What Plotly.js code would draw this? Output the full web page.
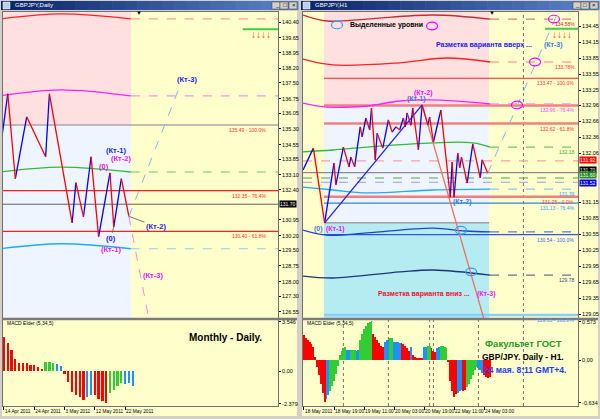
<!DOCTYPE html>
<html><head><meta charset="utf-8">
<script src="https://cdn.plot.ly/plotly-3.0.1.min.js"></script>
<style>html,body{margin:0;padding:0;background:#d4d0c8;overflow:hidden}#c{width:600px;height:419px}</style>
</head><body><div id="c"></div>
<script>
// ================= DATA : left window (GBPJPY, Daily) =================
const dPriceTicks = [140.40,139.65,138.95,138.20,137.50,136.75,136.05,135.30,134.55,133.85,133.10,132.40,130.95,130.20,129.50,128.75,128.00,127.30,126.55];
const dDateIdx = [0,8,16,24,32];
const dDateText = ['14 Apr 2011','24 Apr 2011','3 May 2011','12 May 2011','22 May 2011'];
const dZigX = [-1,1,3,6,11,12,18,19,21,23,25,28,29,31,33];
const dZigY = [134.3,136.98,132.92,135.88,133.97,136.98,130.81,132.73,131.10,133.97,130.15,133.20,130.62,132.92,131.12];
const dCurveX = [-1,15,33.5];
const dRedTop = [140.56,140.80,140.56];
const dMagenta = [136.88,137.17,136.88];
const dGreen = [133.24,133.47,133.24];
const dCyan = [129.57,129.81,129.57];
const dFibLevels = [135.49,132.35,130.40];
const dFibText = ['135.49 - 100.0%','132.35 - 76.4%','130.40 - 61.8%'];
const dLast = 131.70;
const dZoneEnd = 33.55;
const dKt3Up = [46.5,137.36];
const dKt3Down = [38.5,126.0];
const dStopLevel = 140.07;
const dMacd = [2.48,2.0,1.52,0.85,0.56,0.56,0.56,0.43,0.43,0.31,0.12,0.63,0.63,0.56,0.5,0.36,-0.22,-0.77,-1.49,-1.73,-1.86,-2.1,-1.9,-1.73,-1.73,-2.05,-2.14,-2.34,-1.61,-1.37,-1.08,-0.85,-0.94,-0.89,-1.08];
const dMacdCol = ['r','r','r','r','r','r','r','r','r','r','r','g','g','g','b','b','r','r','r','r','r','r','b','b','r','r','r','r','g','g','g','g','b','b','b'];
const dMacdTicks = [3.546,0,-2.379];
const dMacdTickText = ['3.546','0.00','-2.379'];

// ================= DATA : right window (GBPJPY, H1) =================
const hPriceTicks = [134.45,134.15,133.85,133.55,133.25,132.96,132.66,132.36,132.06,131.15,130.85,130.55,130.25,129.95,129.65,129.35,129.05];
const hDateIdx = [0,16,32,48,64,80,96];
const hDateText = ['18 May 2011','18 May 19:00','19 May 11:00','20 May 03:00','20 May 19:00','22 May 11:00','24 May 03:00'];
const hSepIdx = [21,45,67,69,93,117];
const hZigX = [-0.5,5,11,16,17,21,24,25,27,30,31,33,35,36,38,39,42,45,47,49,51,53,54,55,57,58,61,63,66,67,69,73,78,79,80,82,83,84,87,90,94,95,98];
const hZigY = [131.75,132.16,130.76,131.88,131.47,132.18,131.81,131.99,131.81,132.56,132.37,132.725,132.50,132.91,131.94,132.44,132.16,132.69,132.46,132.56,132.50,132.725,132.56,132.82,132.59,132.91,132.125,132.97,132.59,132.74,132.275,132.875,131.24,131.90,131.24,132.07,131.79,131.99,131.506,132.24,131.60,131.94,131.69];
const hZone = [10.67,98.7];
const hDarkRedX = [-0.5,12.3,33.6,68.8,99.2];  const hDarkRedY = [134.656,134.544,134.58,134.656,134.58];
const hRedX = [-0.5,15.5,51.2,76.3,99.2];       const hRedY = [133.83,133.72,133.76,133.85,133.775];
const hMagX = [-0.5,12.3,33.6,51.2,72.5,99.2];  const hMagY = [133.006,132.93,132.95,133.044,133.06,132.99];
const hGreenX = [-0.5,15.5,33.6,68.8,90.1,99.2];const hGreenY = [132.09,132.125,132.18,132.26,132.26,132.18];
const hCyanX = [-0.5,15.5,33.6,68.8,99.2];      const hCyanY = [131.43,131.375,131.32,131.375,131.39];
const hBlueX = [-0.5,12.3,33.6,68.8,85.9,99.2]; const hBlueY = [130.625,130.53,130.57,130.66,130.606,130.59];
const hNavyX = [-0.5,15.5,51.2,68.8,99.2];      const hNavyY = [129.76,129.725,129.84,129.875,129.78];
const hFibLevels = [133.47,132.96,132.62,131.25,131.13,130.54,129.03];
const hFibText = ['133.47 - 100.0%','132.96 - 76.4%','132.62 - 61.8%','131.25 - 0.0%','131.13 - 76.4%','130.54 - 100.0%','129.03 - 161.8%'];
const hZoneLow = 130.76;
const hBid = 131.70, hRedLvl = 131.92, hGreenLvl = 131.60, hBlueLvl = 131.52;
const hLongBlue = [[11,130.76],[63,132.97]];
const hLongRed = [[63,132.97],[96,128.95]];
const hKt3Up = [[98,131.69],[135,134.675]];
const hStopLevel = 134.40;
const hEllI = [17.6,68.3,133.3,123.2,113.6,83.7,89.1];
const hEllP = [134.47,134.45,134.58,133.775,132.97,130.62,129.84];
const hEllC = ['#3399ff','#ff00ff','#ff00ff','#ff00ff','#ff00ff','#3399ff','#3399ff'];
const hMacd = [0.38,0.34,0.30,0.27,0.24,0.20,0.05,-0.10,-0.22,-0.35,-0.48,-0.62,-0.58,-0.52,-0.45,-0.38,-0.30,-0.20,-0.08,0.08,
0.14,0.18,0.20,0.16,0.15,0.15,0.16,0.15,0.14,0.15,0.30,0.40,0.47,0.52,0.55,0.57,0.58,0.40,0.35,0.30,
0.26,0.22,0.20,0.28,0.30,0.30,0.34,0.33,0.28,0.28,0.27,0.26,0.26,0.24,0.22,0.18,0.14,0.20,0.08,0.05,
0.03,0.03,0.04,0.03,0.20,0.20,0.22,0.22,0.18,0.14,0.12,0.18,0.20,0.22,0.22,0.20,0.18,-0.02,-0.30,-0.45,
-0.54,-0.50,-0.48,-0.45,-0.44,-0.45,-0.44,-0.40,-0.35,-0.28,-0.22,-0.15,-0.10,-0.12,-0.15,-0.18,-0.22,-0.25,-0.26,-0.24];
const hMacdCol = ['r','r','r','r','r','r','r','r','r','r','r','r','b','b','g','g','g','g','g','g',
'g','g','g','b','b','g','g','g','b','b','g','g','g','g','g','g','g','r','r','r',
'r','r','r','b','b','b','g','g','b','b','b','b','r','r','r','r','r','b','r','r',
'r','r','r','r','b','b','g','g','r','r','r','b','b','g','g','g','g','r','r','r',
'r','r','b','b','b','r','r','g','g','g','g','g','g','b','b','b','r','r','r','r'];
const hMacdTicks = [0.573,0,-0.634];
const hMacdTickText = ['0.573','0.00','-0.634'];

// ================= helpers / styling =================
const W=600,H=419;
const px = x => x/W, py = y => 1 - y/H;
const DX = [-0.26,72.39], DY = [126.26,140.89], DM = [-2.53,3.687];
const HX = [-0.53,146.1], HY = [128.975,134.7125], HM = [-0.679,0.602];
const COL = {r:'#ff0000', g:'#32cd32', b:'#1e90ff'};
const data = [];
function line(xs, ys, xa, ya, color, width, dash){
  data.push({type:'scatter',mode:'lines',x:xs,y:ys,xaxis:xa,yaxis:ya,line:{color:color,width:width,dash:dash||'solid'},hoverinfo:'skip'});
}
function zig(xs, ys, xa, ya){
  const up={x:[],y:[]}, dn={x:[],y:[]};
  for(let k=0;k<xs.length-1;k++){
    const t = ys[k+1]>ys[k]?up:dn;
    t.x.push(xs[k],xs[k+1],null); t.y.push(ys[k],ys[k+1],null);
  }
  line(up.x,up.y,xa,ya,'#0000ff',1.3);
  line(dn.x,dn.y,xa,ya,'#ff0000',1.3);
}
function curve(xs, ys, xa, ya, color, dcolor, xend){
  data.push({type:'scatter',mode:'lines',x:xs,y:ys,xaxis:xa,yaxis:ya,line:{color:color,width:1.3,shape:'spline'},hoverinfo:'skip'});
  line([xs[xs.length-1],xend],[ys[ys.length-1],ys[ys.length-1]],xa,ya,dcolor,1.2,'dash');
}

// ---------- left price ----------
line([DX[0],DX[1]],[dFibLevels[0],dFibLevels[0]],'x','y','#a8a8a8',1.5);
line([DX[0],DX[1]],[dFibLevels[1],dFibLevels[1]],'x','y','#ff2020',1.3);
line([DX[0],DX[1]],[dFibLevels[2],dFibLevels[2]],'x','y','#ff2020',1.3);
line([DX[0],DX[1]],[dLast,dLast],'x','y','#606060',1);
curve(dCurveX,dRedTop,'x','y','#ff2020','#ff9c9c',DX[1]);
curve(dCurveX,dMagenta,'x','y','#ff20ff','#ff90f0',DX[1]);
curve(dCurveX,dGreen,'x','y','#33bb33','#66cc66',DX[1]);
curve(dCurveX,dCyan,'x','y','#22aaee','#99ccee',DX[1]);
zig(dZigX,dZigY,'x','y');
line([dZigX[dZigX.length-1],dKt3Up[0]],[dZigY[dZigY.length-1],dKt3Up[1]],'x','y','#80b8f0',1,'dash');
line([dZigX[dZigX.length-1],dKt3Down[0]],[dZigY[dZigY.length-1],dKt3Down[1]],'x','y','#ff80e8',1,'dash');
line([63.1,DX[1]],[dStopLevel,dStopLevel],'x','y','#44cc44',2);

// ---------- left MACD ----------
data.push({type:'bar',x:dMacd.map((v,i)=>i),y:dMacd,xaxis:'x2',yaxis:'y2',width:0.6,marker:{color:dMacdCol.map(c=>COL[c]),line:{width:0}},hoverinfo:'skip'});

// ---------- right price ----------
line([HX[0],HX[1]],[hRedLvl,hRedLvl],'x3','y3','#ffa0a0',1.2,'dash');
line([HX[0],HX[1]],[hGreenLvl,hGreenLvl],'x3','y3','#44aa44',1,'dash');
line([HX[0],HX[1]],[hBlueLvl,hBlueLvl],'x3','y3','#9a9af0',1.2,'dash');
line([HX[0],HX[1]],[hBid,hBid],'x3','y3','#8c8c8c',1.2);
line([hZone[0],hZone[1]],[hZoneLow,hZoneLow],'x3','y3','#a0a0a0',1.5);
const hFibStyle = [['#ff2020',1.2],['#f08080',2.5],['#f08080',2.5],['#f08080',2.5],['#2f86e6',1.2],['#3355dd',1.2],['#87cefa',2.5]];
hFibLevels.forEach((v,k)=>line([hZone[0],HX[1]],[v,v],'x3','y3',hFibStyle[k][0],hFibStyle[k][1]));
curve(hDarkRedX,hDarkRedY,'x3','y3','#c03030','#d08080',HX[1]);
curve(hRedX,hRedY,'x3','y3','#ff2020','#ff8080',HX[1]);
curve(hMagX,hMagY,'x3','y3','#ff20ff','#ff90f0',HX[1]);
curve(hGreenX,hGreenY,'x3','y3','#33bb33','#66cc66',HX[1]);
curve(hCyanX,hCyanY,'x3','y3','#22aaee','#88ccee',HX[1]);
curve(hBlueX,hBlueY,'x3','y3','#2244cc','#6677cc',HX[1]);
curve(hNavyX,hNavyY,'x3','y3','#223377','#667099',HX[1]);
line([hLongBlue[0][0],hLongBlue[1][0]],[hLongBlue[0][1],hLongBlue[1][1]],'x3','y3','#2222ee',1.3);
line([hLongRed[0][0],hLongRed[1][0]],[hLongRed[0][1],hLongRed[1][1]],'x3','y3','#f07060',1.3);
zig(hZigX,hZigY,'x3','y3');
line([hKt3Up[0][0],hKt3Up[1][0]],[hKt3Up[0][1],hKt3Up[1][1]],'x3','y3','#80b8f0',1,'dash');
line([128.5,HX[1]],[hStopLevel,hStopLevel],'x3','y3','#44cc44',2);

// ---------- right MACD ----------
data.push({type:'bar',x:hMacd.map((v,i)=>i),y:hMacd,xaxis:'x4',yaxis:'y4',width:1.0,marker:{color:hMacdCol.map(c=>COL[c]),line:{width:0}},hoverinfo:'skip'});

// ================= shapes =================
const shapes = [];
function prect(x0,y0,x1,y1,fill,layer){shapes.push({type:'rect',xref:'paper',yref:'paper',x0:px(x0),x1:px(x1),y0:py(y1),y1:py(y0),fillcolor:fill,line:{width:0},layer:layer||'below'});}
function pline(x0,y0,x1,y1,color,width){shapes.push({type:'line',xref:'paper',yref:'paper',x0:px(x0),x1:px(x1),y0:py(y0),y1:py(y1),line:{color:color,width:width},layer:'above'});}
prect(2,11,297,416,'#ffffcc');
prect(302,11,598,416,'#ffffcc');
function titlebar(x0,x1){
  const n=24, a=[10,36,106], b=[90,130,200];
  for(let k=0;k<n;k++){
    const t=k/(n-1), c='rgb('+a.map((v,j)=>Math.round(v+(b[j]-v)*t)).join(',')+')';
    prect(x0+(x1-x0)*k/n,1,x0+(x1-x0)*(k+1)/n+0.5,10,c);
  }
  [x1-26,x1-18,x1-9].forEach(bx=>shapes.push({type:'rect',xref:'paper',yref:'paper',x0:px(bx),x1:px(bx+8),y0:py(9),y1:py(2),fillcolor:'#d4d0c8',line:{color:'#404040',width:0.5},layer:'above'}));
  shapes.push({type:'rect',xref:'paper',yref:'paper',x0:px(x0+2),x1:px(x0+9),y0:py(9),y1:py(2),fillcolor:'#b8d0f0',line:{color:'#ffffff',width:0.5},layer:'above'});
}
titlebar(1,298); titlebar(301,599);
shapes.push({type:'rect',xref:'x',yref:'y',x0:DX[0],x1:dZoneEnd,y0:dFibLevels[0],y1:DY[1],fillcolor:'#ffe0e0',line:{width:0},layer:'below'});
shapes.push({type:'rect',xref:'x',yref:'y',x0:DX[0],x1:dZoneEnd,y0:DY[0],y1:dFibLevels[0],fillcolor:'#eef5ff',line:{width:0},layer:'below'});
shapes.push({type:'rect',xref:'x3',yref:'y3',x0:hZone[0],x1:hZone[1],y0:hFibLevels[1],y1:HY[1],fillcolor:'#ffe0e0',line:{width:0},layer:'below'});
shapes.push({type:'rect',xref:'x3',yref:'y3',x0:hZone[0],x1:hZone[1],y0:hZoneLow,y1:hFibLevels[1],fillcolor:'#eef5ff',line:{width:0},layer:'below'});
shapes.push({type:'rect',xref:'x3',yref:'y3',x0:hZone[0],x1:hZone[1],y0:HY[0],y1:hZoneLow,fillcolor:'#b4ecf2',line:{width:0},layer:'below'});
hSepIdx.forEach(v=>{
  shapes.push({type:'line',xref:'x3',yref:'y3 domain',x0:v,x1:v,y0:0,y1:1,line:{color:'#707070',width:1,dash:'dot'},layer:'below'});
  shapes.push({type:'line',xref:'x4',yref:'y4 domain',x0:v,x1:v,y0:0,y1:1,line:{color:'#707070',width:1,dash:'dot'},layer:'below'});
});
hEllI.forEach((v,k)=>shapes.push({type:'circle',xref:'x3',yref:'y3',xsizemode:'pixel',ysizemode:'pixel',xanchor:v,yanchor:hEllP[k],x0:-5.5,x1:5.5,y0:-3.8,y1:3.8,line:{color:hEllC[k],width:1.2},layer:'above'}));
pline(2,319,297,319,'#7a7a7a',2.5);
pline(302,319,598,319,'#7a7a7a',2.5);

// ================= annotations =================
const annotations = [];
function txt(x,y,t,size,color,opt){annotations.push(Object.assign({xref:'paper',yref:'paper',x:px(x),y:py(y),text:t,showarrow:false,xanchor:'center',yanchor:'middle',font:{size:size,color:color}},opt||{}));}
txt(13,5.5,'GBPJPY,Daily',6,'#ffffff',{xanchor:'left'});
txt(313,5.5,'GBPJPY,H1',6,'#ffffff',{xanchor:'left'});
[[277,'_'],[285,'□'],[294,'×'],[577,'_'],[585,'□'],[594,'×']].forEach(b=>txt(b[0],5.5,b[1],6,'#000'));
function box(yref,v,txtv,bg,fg,xp,ys){annotations.push({xref:'paper',yref:yref,x:px(xp),y:v,yshift:ys||0,xanchor:'left',yanchor:'middle',text:txtv,showarrow:false,bgcolor:bg,borderpad:0,font:{size:5,color:fg}});}
box('y',dLast,'131.70','#000000','#ffffff',279);
box('y3',hRedLvl,'131.92','#ff0000','#ffffff',579,1);
box('y3',hBid,'131.70','#000000','#ffffff',579,3);
box('y3',hGreenLvl,'131.60','#228822','#ffffff',579,3);
box('y3',hBlueLvl,'131.52','#0000ee','#ffffff',579,-1);
dFibLevels.forEach((v,k)=>annotations.push({xref:'paper',yref:'y',x:px(268),y:v,xanchor:'right',yanchor:'top',text:dFibText[k],showarrow:false,font:{size:5,color:'#ff3030'}}));
const hFibTxtCol = ['#ff3030','#ff40ff','#ff3030','#ff3030','#3399ff','#3366ee','#3399ff'];
hFibLevels.forEach((v,k)=>annotations.push({xref:'paper',yref:'y3',x:px(576),y:v,xanchor:'right',yanchor:'top',text:hFibText[k],showarrow:false,font:{size:5,color:hFibTxtCol[k]}}));
[[hDarkRedY[4],'134.58%','#c03030'],[hRedY[4],'133.78%','#ff3030'],[hGreenY[5],'132.18','#33aa33'],[hCyanY[4],'131.39','#3399ff'],[hNavyY[4],'129.78','#334488']].forEach(a=>
  annotations.push({xref:'paper',yref:'y3',x:px(577),y:a[0],xanchor:'right',yanchor:'top',text:a[1],showarrow:false,font:{size:5,color:a[2]}}));
txt(5,323,'MACD Elder (5,34,5)',5,'#000',{xanchor:'left'});
txt(305,323,'MACD Elder (5,34,5)',5,'#000',{xanchor:'left'});
txt(139,13,'▼',6,'#000');
txt(492,13,'▼',6,'#000');
txt(261,35,'<b>↓↓↓↓</b>',10,'#ff4500');
txt(562,35,'<b>↓↓↓↓</b>',10,'#ff4500');
const BL='#1a1aee', MG='#ee10ee';
txt(187,79,'<b>(Кт-3)</b>',7.5,BL);
txt(116,150,'<b>(Кт-1)</b>',7.5,BL);
txt(121,158,'<b>(Кт-2)</b>',7.5,MG);
txt(104,166,'<b>(0)</b>',7.5,MG);
annotations.push({xref:'x',yref:'y',x:dZigX[14],y:dZigY[14],ax:27,ay:10,text:'<b>(Кт-2)</b>',showarrow:true,arrowhead:0,arrowwidth:0.8,arrowcolor:'#555',font:{size:7.5,color:BL}});
annotations.push({xref:'x',yref:'y',x:dZigX[12],y:dZigY[12],ax:-3,ay:12,text:'<b>(0)</b>',showarrow:true,arrowhead:0,arrowwidth:0.8,arrowcolor:'#555',font:{size:7.5,color:BL}});
txt(111,249,'<b>(Кт-1)</b>',7.5,MG);
txt(153,275,'<b>(Кт-3)</b>',7.5,MG);
txt(225,337,'<b>Monthly - Daily.</b>',10,'#000');
txt(386,25,'<b>Выделенные уровни</b>',7,'#000');
txt(484,45,'<b>Разметка варианта вверх ...</b>',7,'#2020ee');
txt(553,45,'<b>(Кт-3)</b>',7,'#3a78d8');
txt(423,93,'<b>(Кт-2)</b>',7,MG);
txt(416,99,'<b>(Кт-1)</b>',7,'#3a78d8');
txt(318,229,'<b>(0)</b>',7,'#3a78d8');
txt(335,229,'<b>(Кт-1)</b>',7,MG);
txt(463,202,'<b>(Кт-2)</b>',7,'#3a78d8');
txt(424,294,'<b>Разметка варианта вниз ...</b>',7,'#ee1133');
txt(486,294,'<b>(Кт-3)</b>',7,MG);
txt(523,343,'<b>Факультет ГОСТ</b>',9.5,'#1f9a1f');
txt(523,357,'<b>GBP/JPY. Daily - H1.</b>',8.5,'#000');
txt(525,370,'<b>24 мая. 8:11 GMT+4.</b>',8.5,'#1a3cff');

// ================= layout =================
const ax = {showgrid:false,zeroline:false,showline:true,mirror:true,linecolor:'#707070',linewidth:1,fixedrange:true,tickfont:{size:5.5,color:'#000'},tickcolor:'#000',ticklen:2};
const dateAx = {ticks:'outside',ticklen:3,tickangle:0,ticklabelposition:'outside right',tickfont:{size:4.8,color:'#000'}};
const layout = {
  width:W,height:H,autosize:false,margin:{l:0,r:0,t:0,b:0},
  paper_bgcolor:'#d4d0c8',plot_bgcolor:'rgba(0,0,0,0)',showlegend:false,bargap:0,
  font:{family:'Liberation Sans, Arial, sans-serif',size:6,color:'#000'},
  xaxis:Object.assign({},ax,{domain:[px(3),px(278)],range:DX,anchor:'y',showticklabels:false,ticks:''}),
  yaxis:Object.assign({},ax,{domain:[py(318),py(12)],range:DY,anchor:'x',side:'right',tickvals:dPriceTicks,ticktext:dPriceTicks.map(v=>v.toFixed(2)),ticks:'outside'}),
  xaxis2:Object.assign({},ax,dateAx,{domain:[px(3),px(278)],range:DX,anchor:'y2',tickvals:dDateIdx,ticktext:dDateText}),
  yaxis2:Object.assign({},ax,{domain:[py(406),py(320)],range:DM,anchor:'x2',side:'right',tickvals:dMacdTicks,ticktext:dMacdTickText,ticks:'outside'}),
  xaxis3:Object.assign({},ax,{domain:[px(303),px(578)],range:HX,anchor:'y3',showticklabels:false,ticks:''}),
  yaxis3:Object.assign({},ax,{domain:[py(318),py(12)],range:HY,anchor:'x3',side:'right',tickvals:hPriceTicks,ticktext:hPriceTicks.map(v=>v.toFixed(2)),ticks:'outside'}),
  xaxis4:Object.assign({},ax,dateAx,{domain:[px(303),px(578)],range:HX,anchor:'y4',tickvals:hDateIdx,ticktext:hDateText}),
  yaxis4:Object.assign({},ax,{domain:[py(406),py(320)],range:HM,anchor:'x4',side:'right',tickvals:hMacdTicks,ticktext:hMacdTickText,ticks:'outside'}),
  shapes:shapes,annotations:annotations
};
Plotly.newPlot('c',data,layout,{staticPlot:true,displayModeBar:false});
</script></body></html>
